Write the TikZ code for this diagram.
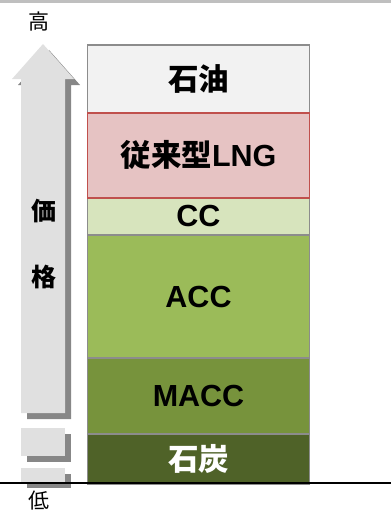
\documentclass[tikz,border=0pt]{standalone}
\usepackage{fontspec}
\setmainfont{Liberation Sans}
\newfontfamily\jp{Noto Sans CJK JP}
\definecolor{oilc}{HTML}{F2F2F2}
\definecolor{lngc}{HTML}{E6C3C3}
\definecolor{lngb}{HTML}{C0504D}
\definecolor{ccc}{HTML}{D7E4BD}
\definecolor{accc}{HTML}{9BBB59}
\definecolor{maccc}{HTML}{77933C}
\definecolor{coalc}{HTML}{4F6228}
\definecolor{edgec}{HTML}{8C8C8C}
\definecolor{arrowc}{HTML}{E0E0E0}
\definecolor{shadowc}{HTML}{878787}
\definecolor{topc}{HTML}{BFBFBF}
\tikzset{
  layer/.style={draw=edgec, line width=1.8pt, minimum width=222pt, inner sep=0pt, anchor=north,
    font=\fontsize{30.5}{30.5}\selectfont\bfseries},
  arrowfill/.style={fill=arrowc, draw=none},
  shadowfill/.style={fill=shadowc, draw=none},
  axislabel/.style={inner sep=0pt, font=\jp\fontsize{21}{21}\selectfont},
  pricelabel/.style={inner sep=0pt, font=\jp\bfseries\fontsize{25}{25}\selectfont},
}
\begin{document}
\begin{tikzpicture}[x=1pt,y=-1pt]
\useasboundingbox (0,0) rectangle (391,511);
\fill[topc] (0,0) rectangle (391,3);
% arrow shadow
\begin{scope}[shift={(6,6)}]
\fill[shadowfill] (43,44) -- (74,79) -- (65,79) -- (65,413) -- (21,413) -- (21,79) -- (12,79) -- cycle;
\fill[shadowfill] (21,428) rectangle (65,456);
\fill[shadowfill] (21,468) rectangle (65,482);
\end{scope}
% arrow
\fill[arrowfill] (43,44) -- (74,79) -- (65,79) -- (65,413) -- (21,413) -- (21,79) -- (12,79) -- cycle;
\fill[arrowfill] (21,428) rectangle (65,456);
\fill[arrowfill] (21,468) rectangle (65,482);
% labels
\node[axislabel] (high) at (39,22) {高};
\node[axislabel] (low) at (39,501) {低};
\node[pricelabel] (ka) at (44,211) {価};
\node[pricelabel] (ku) at (44,277) {格};
% layers
\node[layer, fill=oilc, minimum height=68pt] (oil) at (198.5,44) {\jp 石油};
\node[layer, fill=accc, minimum height=124pt] (acc) at (198.5,234) {ACC};
\node[layer, fill=maccc, minimum height=76pt] (macc) at (198.5,357) {MACC};
\node[layer, fill=coalc, minimum height=50pt, text=white] (coal) at (198.5,433) {\jp 石炭};
\node[layer, fill=ccc, minimum height=37pt] (cc) at (198.5,197) {CC};
\node[layer, fill=lngc, draw=lngb, minimum height=85pt] (lng) at (198.5,112) {{\jp 従来型}LNG};
% base line
\draw[line width=2pt, black] (0,482.5) -- (391,482.5);
\end{tikzpicture}
\end{document}
